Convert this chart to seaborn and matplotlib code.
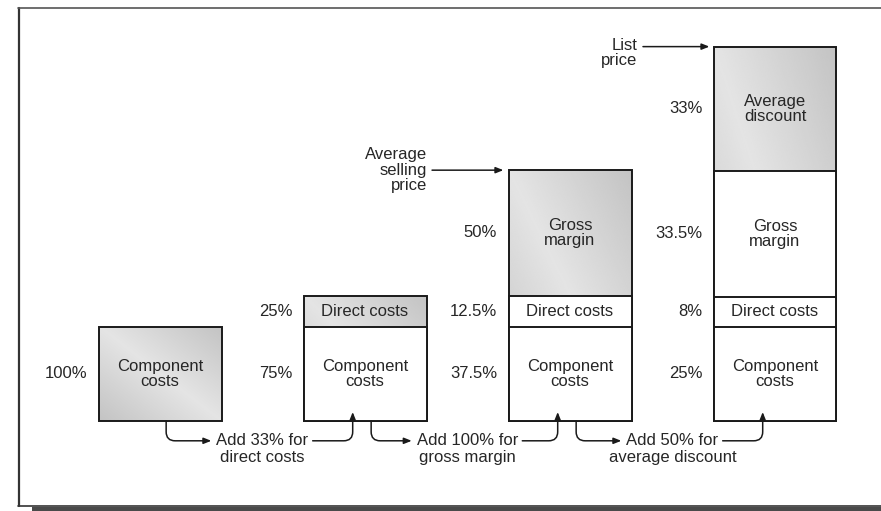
import numpy as np
import pandas as pd
import matplotlib
matplotlib.use("Agg")
import matplotlib.pyplot as plt
from matplotlib.lines import Line2D
from matplotlib.patches import Rectangle
import seaborn as sns

# ---- data ---------------------------------------------------------------
# Price build-up, every stage measured against component cost = 100
stages = ["Component cost", "Cost of goods", "Average selling price", "List price"]
base_cost = 100.0
markups = [33, 100, 50]          # percent added at each step
markup_captions = [
    "Add 33% for\ndirect costs",
    "Add 100% for\ngross margin",
    "Add 50% for\naverage discount",
]

# Composition of each stage, bottom to top
segment_names = [
    ["Component\ncosts"],
    ["Component\ncosts", "Direct costs"],
    ["Component\ncosts", "Direct costs", "Gross\nmargin"],
    ["Component\ncosts", "Direct costs", "Gross\nmargin", "Average\ndiscount"],
]
# Share of the stage total taken by each segment (percent)
segment_shares = [
    [100],
    [75, 25],
    [37.5, 12.5, 50],
    [25, 8, 33.5, 33],
]

# ---- derived table ------------------------------------------------------
totals = [base_cost]
for m in markups:
    totals.append(totals[-1] * (1 + m / 100))

rows = []
for i, stage in enumerate(stages):
    cum = 0.0
    n = len(segment_shares[i])
    for j, (name, share) in enumerate(zip(segment_names[i], segment_shares[i])):
        h = share / 100 * totals[i]
        rows.append(dict(stage=stage, idx=i, level=j, name=name, share=share,
                         bottom=cum, top=cum + h, is_top=(j == n - 1)))
        cum += h
df = pd.DataFrame(rows)

# ---- style --------------------------------------------------------------
sns.set_style("white")
plt.rcParams["font.family"] = ["Liberation Sans", "DejaVu Sans"]
INK = "#262626"
FS = 12
BAR_W = 0.6
LS = 1.0

fig = plt.figure(figsize=(8.81, 5.11), dpi=100)
ax = fig.add_axes([0, 0, 1, 1])

# pixel layout of the drawing area
X0, DX = 160.0, 205.0     # centre of first column, column spacing
Y0, SY = 421.0, 0.943     # baseline row, pixels per unit
W_PX, H_PX = 881.0, 511.0
XLIM = (-X0 / DX, (W_PX - X0) / DX)
YLIM = (-(H_PX - Y0) / SY, Y0 / SY)


def shade(patch, z):
    """Fill a bar patch with a soft diagonal grey gradient."""
    x0, y0 = patch.get_x(), patch.get_y()
    w, h = patch.get_width(), patch.get_height()
    n = 240
    u = np.linspace(0, 1, n)[None, :]
    v = np.linspace(0, 1, n)[:, None]
    light = 0.895 - 0.13 * np.abs(u - v)
    im = ax.imshow(light, cmap="gray", vmin=0, vmax=1,
                   extent=[x0, x0 + w, y0, y0 + h], origin="upper",
                   aspect="auto", interpolation="bilinear", zorder=z + 0.5)
    im.set_clip_path(patch)
    patch.set_facecolor("none")
    patch.set_zorder(z + 1)


# stacked columns: paint cumulative tops from the highest level down
max_level = df["level"].max()
for j in range(max_level, -1, -1):
    layer = df[df["level"] == j]
    z = 2 + (max_level - j) * 2
    before = len(ax.patches)
    sns.barplot(data=layer, x="stage", y="top", order=stages, color="white",
                saturation=1, edgecolor="#1a1a1a", linewidth=1.4, width=BAR_W,
                errorbar=None, zorder=z, ax=ax)
    for p in ax.patches[before:]:
        i = int(round(p.get_x() + p.get_width() / 2))
        row = layer[layer["idx"] == i].iloc[0]
        if row["is_top"]:
            shade(p, z)

ax.set_xlim(*XLIM)
ax.set_ylim(*YLIM)
ax.set_axis_off()

# segment names and share labels
for _, r in df.iterrows():
    mid = (r["bottom"] + r["top"]) / 2
    ax.text(r["idx"], mid, r["name"], ha="center", va="center", fontsize=FS,
            color=INK, linespacing=LS, zorder=20)
    ax.text(r["idx"] - BAR_W / 2 - 0.055, mid, f"{r['share']:g}%", ha="right",
            va="center", fontsize=FS, color=INK, zorder=20)

# markup captions with connecting arrows between columns
line_y = -21.0
line_gap = 18.0
arrow_kw = dict(arrowstyle="-|>,head_length=0.45,head_width=0.18", color="#1a1a1a",
                lw=1.1, shrinkA=0, shrinkB=0)
fig.canvas.draw()
renderer = fig.canvas.get_renderer()
inv = ax.transData.inverted()
for i, cap in enumerate(markup_captions):
    cx = i + 0.5
    first, second = cap.split("\n")
    t1 = ax.text(cx, line_y, first, ha="center", va="center", fontsize=FS,
                 color=INK, zorder=20)
    ax.text(cx, line_y - line_gap, second, ha="center", va="center",
            fontsize=FS, color=INK, zorder=20)
    bb = t1.get_window_extent(renderer)
    left = inv.transform((bb.x0, bb.y0))[0] - 0.025
    right = inv.transform((bb.x1, bb.y0))[0] + 0.02
    ax.annotate("", xy=(left, line_y), xytext=(i + 0.03, 0),
                arrowprops=dict(connectionstyle="angle,angleA=90,angleB=0,rad=9",
                                **arrow_kw), zorder=21)
    ax.annotate("", xy=(i + 1 - 0.06, 9.5), xytext=(right, line_y),
                arrowprops=dict(connectionstyle="angle,angleA=0,angleB=90,rad=9",
                                **arrow_kw), zorder=21)

# price call-outs
sell_top = df[df["idx"] == 2]["top"].max()
list_top = df[df["idx"] == 3]["top"].max()
ax.annotate("", xy=(2 - BAR_W / 2 - 0.025, sell_top), xytext=(1.327, sell_top),
            arrowprops=dict(connectionstyle="arc3", **arrow_kw), zorder=21)
ax.text(1.302, sell_top, "Average\nselling\nprice", ha="right", va="center",
        fontsize=FS, color=INK, linespacing=1.05, zorder=20)
ax.annotate("", xy=(3 - BAR_W / 2 - 0.02, list_top), xytext=(2.356, list_top),
            arrowprops=dict(connectionstyle="arc3", **arrow_kw), zorder=21)
ax.text(2.33, list_top + 9.5, "List\nprice", ha="right", va="top",
        fontsize=FS, color=INK, linespacing=1.05, zorder=20)

# page frame with drop shadow
def fx(px):
    return px / W_PX


def fy(py):
    return 1 - py / H_PX


fig.add_artist(Rectangle((fx(32), 0), 1 - fx(32), fy(506.5),
                         transform=fig.transFigure, color="#4a4a4a", lw=0))
fig.add_artist(Line2D([fx(18.5), fx(18.5)], [fy(8), fy(506)],
                      transform=fig.transFigure, color="#333333", lw=1.6))
fig.add_artist(Line2D([fx(18), 1], [fy(8.5), fy(8.5)],
                      transform=fig.transFigure, color="#555555", lw=1.2))
fig.add_artist(Line2D([fx(18), 1], [fy(505.5), fy(505.5)],
                      transform=fig.transFigure, color="#333333", lw=1.2))

fig.savefig("out.png", dpi=100)
